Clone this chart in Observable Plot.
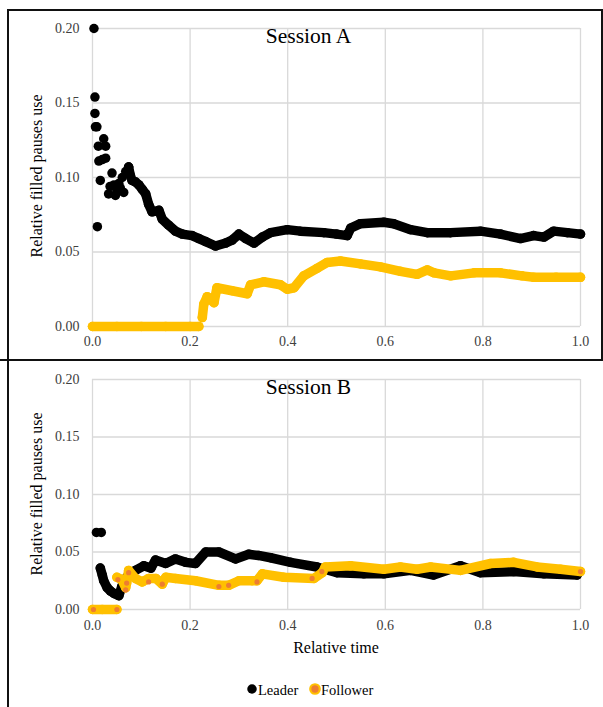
<!DOCTYPE html>
<html><head><meta charset="utf-8">
<script src="https://cdn.jsdelivr.net/npm/d3@7"></script>
<script src="https://cdn.jsdelivr.net/npm/@observablehq/plot@0.6"></script>
<style>
html,body{margin:0;padding:0;background:#fff;}
#wrap{position:relative;width:603px;height:707px;overflow:hidden;font-family:"Liberation Serif","Times New Roman",serif;}
#wrap > svg{position:absolute !important;left:0;background:transparent !important;font-family:"Liberation Serif","Times New Roman",serif !important;font-size:14px !important;max-width:none !important;}
#wrap > svg text{font-family:"Liberation Serif","Times New Roman",serif !important;}
.fr{position:absolute;background:#111;z-index:20;}
</style></head><body>
<div id="wrap">
  <div class="fr" style="left:8px;top:9px;width:595px;height:2px"></div>
  <div class="fr" style="left:7px;top:9px;width:2px;height:698px"></div>
  <div class="fr" style="left:601px;top:9px;width:2px;height:351px"></div>
  <div class="fr" style="left:0px;top:359px;width:603px;height:2px"></div>
</div>
<script>
// ---------------- data ----------------
const xTicks = [0, 0.2, 0.4, 0.6, 0.8, 1.0];
const yTicks = [0, 0.05, 0.10, 0.15, 0.20];
const panelTitles = ["Session A", "Session B"];
const yTitle = "Relative filled pauses use";
const xTitle = "Relative time";
const seriesNames = ["Leader", "Follower"];

// Session A – Leader: scattered early points
const leaderA_scatter = [[0.003,0.200],[0.005,0.154],[0.005,0.143],[0.006,0.134],[0.009,0.134],[0.012,0.121],[0.023,0.126],[0.027,0.121],[0.013,0.111],[0.020,0.112],[0.027,0.113],[0.016,0.098],[0.010,0.067],[0.033,0.089],[0.036,0.094],[0.040,0.103],[0.044,0.095],[0.047,0.088],[0.050,0.091],[0.054,0.096],[0.057,0.093],[0.061,0.100],[0.064,0.090],[0.068,0.104],[0.074,0.107]];
// Session A – Leader: dense trail
const leaderA_trail = [[0.074,0.107],[0.077,0.102],[0.081,0.098],[0.088,0.097],[0.095,0.095],[0.102,0.092],[0.109,0.089],[0.115,0.082],[0.122,0.077],[0.136,0.078],[0.143,0.072],[0.156,0.068],[0.170,0.064],[0.184,0.062],[0.204,0.061],[0.218,0.059],[0.232,0.057],[0.252,0.054],[0.273,0.056],[0.286,0.058],[0.300,0.062],[0.314,0.059],[0.331,0.056],[0.348,0.060],[0.365,0.063],[0.399,0.065],[0.426,0.064],[0.474,0.063],[0.500,0.062],[0.522,0.061],[0.529,0.066],[0.549,0.069],[0.597,0.070],[0.617,0.069],[0.652,0.065],[0.686,0.063],[0.734,0.063],[0.795,0.064],[0.836,0.062],[0.877,0.059],[0.904,0.061],[0.925,0.060],[0.945,0.064],[0.973,0.063],[1.0,0.062]];
// Session A – Follower
const followerA_zero = [[0.0,0],[0.05,0],[0.10,0],[0.15,0],[0.20,0],[0.218,0]];
const followerA_trail = [[0.225,0.006],[0.228,0.015],[0.235,0.020],[0.249,0.016],[0.255,0.026],[0.286,0.024],[0.317,0.022],[0.324,0.028],[0.351,0.030],[0.385,0.028],[0.399,0.025],[0.413,0.026],[0.433,0.034],[0.460,0.039],[0.481,0.043],[0.508,0.044],[0.549,0.042],[0.590,0.040],[0.631,0.037],[0.665,0.035],[0.686,0.038],[0.700,0.036],[0.734,0.034],[0.782,0.036],[0.836,0.036],[0.880,0.034],[0.904,0.033],[0.950,0.033],[1.0,0.033]];

// Session B – Leader
const leaderB_scatter = [[0.008,0.067],[0.018,0.067]];
const leaderB_trail = [[0.016,0.036],[0.020,0.030],[0.023,0.025],[0.030,0.019],[0.037,0.016],[0.044,0.014],[0.054,0.012],[0.060,0.020],[0.070,0.028],[0.080,0.031],[0.088,0.034],[0.105,0.038],[0.120,0.036],[0.129,0.043],[0.150,0.040],[0.170,0.044],[0.191,0.041],[0.211,0.040],[0.232,0.050],[0.259,0.050],[0.293,0.044],[0.320,0.048],[0.340,0.047],[0.365,0.045],[0.406,0.041],[0.460,0.037],[0.501,0.032],[0.556,0.031],[0.597,0.031],[0.652,0.034],[0.699,0.030],[0.754,0.038],[0.795,0.032],[0.863,0.033],[0.925,0.031],[0.993,0.030]];
// Session B – Follower
const followerB_zero = [[0.0,0],[0.02,0],[0.05,0]];
const followerB_trail = [[0.050,0.028],[0.060,0.026],[0.068,0.019],[0.070,0.023],[0.074,0.034],[0.088,0.027],[0.102,0.024],[0.115,0.027],[0.130,0.027],[0.143,0.022],[0.150,0.028],[0.170,0.027],[0.211,0.025],[0.259,0.021],[0.279,0.021],[0.300,0.025],[0.327,0.025],[0.337,0.025],[0.348,0.031],[0.392,0.028],[0.454,0.027],[0.471,0.032],[0.477,0.037],[0.529,0.038],[0.597,0.035],[0.631,0.037],[0.665,0.035],[0.693,0.037],[0.754,0.034],[0.816,0.040],[0.863,0.041],[0.911,0.037],[0.959,0.035],[1.0,0.033]];
// Session B – Follower points whose orange centre shows
const followerB_marked = [[0.002,0],[0.05,0],[0.052,0.026],[0.068,0.017],[0.070,0.023],[0.074,0.032],[0.115,0.024],[0.143,0.022],[0.259,0.020],[0.279,0.021],[0.337,0.024],[0.450,0.027],[0.470,0.033],[1.0,0.033]];

// ---------------- drawing ----------------
const BLACK = "#000000", YELLOW = "#FFC000", ORANGE = "#ED7D31", GRID = "#d9d9d9", TICK = "#404040";
const SERIF = "Liberation Serif";
const R = 4.75, SW = 9.5;
const P = a => a.map(([x, y]) => ({x, y}));

function trail(data, color) {
  return [
    Plot.line(P(data), {x: "x", y: "y", stroke: color, strokeWidth: SW, strokeLinecap: "round", strokeLinejoin: "round"}),
    Plot.dot(P(data), {x: "x", y: "y", r: R, fill: color})
  ];
}

function panel(cfg) {
  return Plot.plot({
    width: 603, height: cfg.height,
    marginLeft: 92, marginRight: 23, marginTop: cfg.mt, marginBottom: cfg.mb,
    style: {fontFamily: SERIF, fontSize: "14px", color: TICK, background: "transparent"},
    x: {domain: [0, 1]},
    y: {domain: [0, 0.2]},
    marks: [
      Plot.gridX(xTicks, {stroke: GRID, strokeOpacity: 1, strokeWidth: 1.3}),
      Plot.gridY(yTicks, {stroke: GRID, strokeOpacity: 1, strokeWidth: 1.3}),
      Plot.axisX(xTicks, {tickSize: 0, tickPadding: cfg.xpad, tickFormat: d3.format(".1f"), label: null, fill: TICK, fontFamily: SERIF, fontSize: 14}),
      Plot.axisY(yTicks, {tickSize: 0, tickPadding: 13, tickFormat: d3.format(".2f"), label: null, fill: TICK, fontFamily: SERIF, fontSize: 14}),
      ...cfg.marks
    ]
  });
}

const wrap = document.getElementById("wrap");

const topPlot = panel({
  height: 360, mt: 28, mb: 34, xpad: 10,
  marks: [
    ...trail(leaderA_trail, BLACK),
    Plot.dot(P(leaderA_scatter), {x: "x", y: "y", r: R, fill: BLACK}),
    ...trail(followerA_zero, YELLOW),
    ...trail(followerA_trail, YELLOW)
  ]
});
topPlot.style.top = "0px";
wrap.appendChild(topPlot);

const botPlot = panel({
  height: 347, mt: 19, mb: 98, xpad: 11,
  marks: [
    ...trail(leaderB_trail, BLACK),
    Plot.dot(P(leaderB_scatter), {x: "x", y: "y", r: R, fill: BLACK}),
    ...trail(followerB_zero, YELLOW),
    ...trail(followerB_trail, YELLOW),
    Plot.dot(P(followerB_marked), {x: "x", y: "y", r: 2.6, fill: ORANGE})
  ]
});
botPlot.style.top = "360px";
wrap.appendChild(botPlot);

// overlay: titles, legend
const ov = d3.select(wrap).append("svg")
  .attr("width", 603).attr("height", 707).style("top", "0px").style("z-index", 5);

// panel titles
[[308.5, 42.5], [308.5, 394]].forEach(([x, y], i) => {
  ov.append("text").attr("x", x).attr("y", y).attr("text-anchor", "middle")
    .attr("font-size", 21.5).attr("fill", "#000").text(panelTitles[i]);
});
// y titles
[176, 494].forEach(cy => {
  ov.append("text").attr("transform", `translate(42,${cy}) rotate(-90)`).attr("text-anchor", "middle")
    .attr("font-size", 16).attr("fill", "#000").text(yTitle);
});
// x title
ov.append("text").attr("x", 336).attr("y", 653).attr("text-anchor", "middle")
  .attr("font-size", 16).attr("fill", "#000").text(xTitle);

// legend
const lg = ov.append("g").attr("font-size", 14.5).attr("fill", "#000");
lg.append("circle").attr("cx", 252).attr("cy", 689).attr("r", R).attr("fill", BLACK);
lg.append("text").attr("x", 258).attr("y", 694.5).text(seriesNames[0]);
lg.append("circle").attr("cx", 315).attr("cy", 689).attr("r", R).attr("fill", ORANGE).attr("stroke", YELLOW).attr("stroke-width", 2.2);
lg.append("text").attr("x", 321).attr("y", 694.5).text(seriesNames[1]);
</script>
</body></html>
